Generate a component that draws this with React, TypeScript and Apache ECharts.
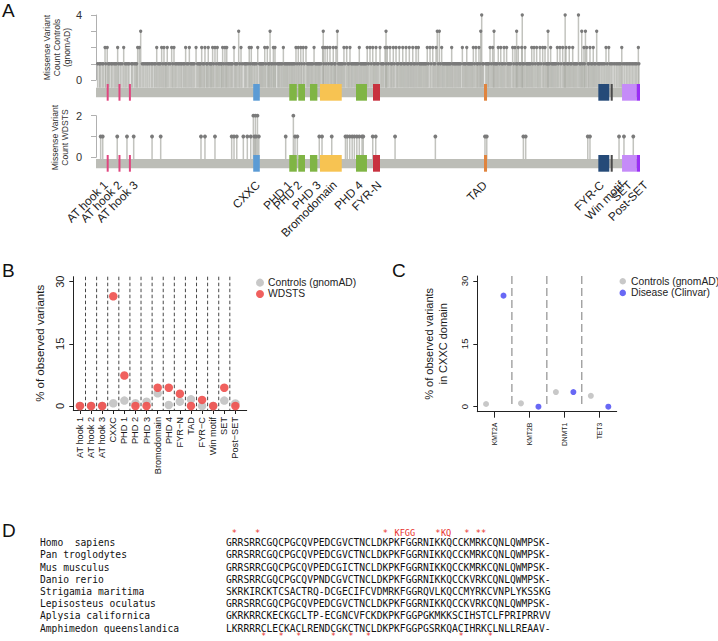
import React, { useEffect, useRef } from 'react';
import * as echarts from 'echarts';

const FONT = "'Liberation Sans', Arial, Helvetica, sans-serif";
const MONO = "'DejaVu Sans Mono', monospace";

// ---------- Panel A data ----------
const PROTEIN_LENGTH = 3969;
const domainNames = ['AT hook 1', 'AT hook 2', 'AT hook 3', 'CXXC', 'PHD 1', 'PHD 2', 'PHD 3', 'Bromodomain', 'PHD 4', 'FYR-N', 'TAD', 'FYR-C', 'Win motif', 'SET', 'Post-SET'];
const domainStart = [78, 164, 240, 1147, 1410, 1476, 1561, 1634, 1897, 2021, 2831, 3665, 3755, 3838, 3945];
const domainEnd = [90, 176, 252, 1195, 1465, 1525, 1615, 1793, 1977, 2072, 2853, 3745, 3770, 3945, 3969];
const domainColors = ['#e0457f', '#e0457f', '#e0457f', '#5b9bd5', '#80b545', '#80b545', '#80b545', '#f7c352', '#80b545', '#c8323f', '#e0843e', '#254a78', '#4a4a4a', '#c58bf8', '#9a2ef5'];
const labelNudge = [-4.5, -2.3, 3.3, -1.5, -6, -4.6, 2.3, 1.2, -3.5, 0, -3.5, -4.8, 7.4, -2.3, 4.7];
const topPlotTitle = ['Missense Variant', 'Count Controls', '(gnomAD)'];
const bottomPlotTitle = ['Missense Variant', 'Count WDSTS'];

const ctrlCount1 = [12, 25, 31, 44, 53, 71, 90, 97, 110, 118, 131, 140, 149, 166, 178, 190, 212, 221, 233, 241, 258, 266, 279, 290, 297, 337, 348, 359, 371, 380, 392, 404, 413, 425, 434, 452, 461, 470, 488, 505, 512, 530, 541, 560, 578, 587, 598, 607, 618, 626, 637, 646, 663, 672, 690, 699, 708, 717, 740, 749, 757, 763, 780, 788, 806, 811, 828, 837, 842, 858, 877, 893, 902, 912, 917, 932, 948, 962, 970, 979, 988, 995, 1015, 1022, 1030, 1049, 1066, 1081, 1090, 1097, 1109, 1125, 1141, 1152, 1160, 1170, 1192, 1200, 1207, 1215, 1222, 1239, 1258, 1263, 1278, 1285, 1299, 1312, 1326, 1333, 1341, 1350, 1358, 1375, 1383, 1391, 1399, 1408, 1416, 1425, 1433, 1441, 1450, 1467, 1484, 1501, 1520, 1541, 1549, 1557, 1566, 1574, 1582, 1600, 1608, 1617, 1625, 1633, 1642, 1662, 1679, 1697, 1715, 1722, 1740, 1745, 1769, 1777, 1785, 1793, 1801, 1817, 1838, 1845, 1862, 1870, 1879, 1888, 1896, 1904, 1912, 1930, 1938, 1947, 1955, 1963, 1971, 1988, 2008, 2027, 2035, 2051, 2060, 2081, 2090, 2098, 2117, 2134, 2153, 2160, 2177, 2197, 2204, 2222, 2229, 2246, 2254, 2270, 2278, 2295, 2302, 2319, 2327, 2343, 2360, 2368, 2376, 2385, 2393, 2401, 2409, 2425, 2445, 2465, 2473, 2497, 2513, 2530, 2538, 2546, 2555, 2563, 2571, 2579, 2587, 2603, 2612, 2620, 2628, 2637, 2645, 2653, 2661, 2681, 2690, 2697, 2713, 2721, 2729, 2737, 2745, 2762, 2780, 2786, 2801, 2820, 2828, 2844, 2852, 2860, 2866, 2884, 2900, 2911, 2919, 2927, 2944, 2961, 2969, 2985, 3004, 3012, 3020, 3028, 3048, 3065, 3074, 3090, 3098, 3114, 3122, 3139, 3147, 3155, 3163, 3171, 3187, 3205, 3223, 3231, 3247, 3267, 3284, 3292, 3300, 3309, 3325, 3333, 3341, 3349, 3357, 3374, 3393, 3413, 3420, 3437, 3445, 3461, 3469, 3486, 3494, 3502, 3510, 3529, 3537, 3551, 3564, 3590, 3596, 3612, 3620, 3636, 3644, 3662, 3670, 3678, 3690, 3700, 3711, 3730, 3750, 3760, 3772, 3785, 3797, 3808, 3818, 3828, 3845, 3858, 3870, 3881, 3892, 3903, 3914, 3925, 3936, 3946, 3961];
const ctrlCount2 = [66, 82, 158, 202, 304, 316, 443, 479, 496, 520, 552, 569, 654, 681, 730, 771, 795, 819, 851, 868, 885, 924, 941, 954, 1007, 1058, 1118, 1133, 1180, 1231, 1250, 1294, 1306, 1367, 1459, 1476, 1494, 1512, 1532, 1591, 1654, 1671, 1688, 1707, 1731, 1751, 1809, 1829, 1853, 1921, 1979, 1999, 2019, 2043, 2072, 2109, 2125, 2145, 2169, 2189, 2213, 2238, 2262, 2286, 2311, 2335, 2352, 2417, 2437, 2457, 2481, 2522, 2595, 2673, 2705, 2753, 2772, 2794, 2875, 2894, 2935, 2953, 2977, 2996, 3040, 3057, 3081, 3106, 3130, 3179, 3196, 3215, 3239, 3259, 3276, 3317, 3366, 3385, 3405, 3429, 3453, 3478, 3560, 3580, 3604, 3628, 3721, 3741, 3836, 3957];
const ctrlCount3 = [326, 1041, 1270, 1658, 1761, 2116, 2490, 2505, 2807, 2904, 3069, 3298, 3544, 3571, 3653];
const ctrlCount4 = [2814, 3110, 3423, 3520];

const wdstsCount1 = [34, 49, 155, 226, 275, 409, 472, 766, 795, 868, 990, 1007, 1027, 1075, 1104, 1129, 1155, 1168, 1188, 1384, 1452, 1469, 1629, 1649, 1720, 1820, 1833, 1851, 1869, 1885, 1903, 1921, 1941, 1950, 2019, 2041, 2182, 2476, 2838, 2851, 3118, 3135, 3588, 3604, 3816, 3852, 3920];
const wdstsCount2 = [1148, 1163, 1178, 1440];

// ---------- Panel B data ----------
const categoriesB = ['AT hook 1', 'AT hook 2', 'AT hook 3', 'CXXC', 'PHD 1', 'PHD 2', 'PHD 3', 'Bromodomain', 'PHD 4', 'FYR\u2212N', 'TAD', 'FYR\u2212C', 'Win motif', 'SET', 'Post\u2212SET'];
const controlsB = [0, 0, 0, 0.65, 1.3, 0.65, 1.05, 3.06, 0.24, 1.05, 1.6, 0, 0, 1.3, 0.6];
const wdstsB = [0, 0, 0, 26.47, 7.35, 0, 0, 4.41, 4.41, 2.94, 0, 1.47, 0, 4.41, 0];
const ticksB = [0, 15, 30];

// ---------- Panel C data ----------
const genesC = ['KMT2A', 'KMT2B', 'DNMT1', 'TET3'];
const controlsC = [0.65, 0.8, 3.5, 2.6];
const diseaseC = [26.5, 0, 3.5, 0];
const ticksC = [0, 15, 30];

// ---------- Panel D data ----------
const speciesNames = ['Homo\u00a0 sapiens', 'Pan troglodytes', 'Mus musculus', 'Danio rerio', 'Strigamia maritima', 'Lepisosteus oculatus', 'Aplysia californica', 'Amphimedon queenslandica'];
const sequences = [
  'GRRSRRCGQCPGCQVPEDCGVCTNCLDKPKFGGRNIKKQCCKMRKCQNLQWMPSK-',
  'GRRSRRCGQCPGCQVPEDCGVCTNCLDKPKFGGRNIKKQCCKMRKCQNLQWMPSK-',
  'GRRSRRCGQCPGCQVPEDCGICTNCLDKPKFGGRNIKKQCCKMRKCQNLQWMPSK-',
  'GRRSRRCGQCPGCQVPNDCGVCTNCLDKPKFGGRNIKKQCCKVRKCQNLQWMPSK-',
  'SKRKIRCKTCSACTRQ-DCGECIFCVDMRKFGGRQVLKQCCMYRKCVNPLYKSSKG',
  'GRRSRRCGQCPGCQVPEDCGVCTNCLDKPKFGGRNIKKQCCKVRKCQNLQWMPSK-',
  'GKRKRRCKECKGCLTP-ECGNCVFCKDKPKFGGPGKMKKSCIHSTCLFPRIPRRVV',
  'LKRRRRCLECKACLRENDCGKCTNCLDKPKFGGPGSRKQACIHRKCLNLLREAAV-',
];
const topMarks: [number, string][] = [[1, '*'], [5, '*'], [27, '*'], [29, 'KFGG'], [36, '*'], [37, 'KQ'], [41, '*'], [43, '**']];
const bottomMarkCols = [6, 9, 12, 18, 21, 24, 40, 45];

function buildOption() {
  const stemColor = 'rgba(168,170,163,0.7)';
  const dotColor = '#7a7a7a';

  const ctrlPoints = [
    ...ctrlCount1.map((p) => [p, 1]),
    ...ctrlCount2.map((p) => [p, 2]),
    ...ctrlCount3.map((p) => [p, 3]),
    ...ctrlCount4.map((p) => [p, 4]),
  ];
  const wdstsPoints = [...wdstsCount1.map((p) => [p, 1]), ...wdstsCount2.map((p) => [p, 2])];
  const domainData = domainStart.map((s, i) => [s, domainEnd[i], i]);

  const stems = (gi: number, data: number[][], barOff: number) => ({
    type: 'custom', xAxisIndex: gi, yAxisIndex: gi, silent: true, z: 2, clip: false,
    data,
    renderItem: (_p: any, api: any) => {
      const top = api.coord([api.value(0), api.value(1)]);
      const base = api.coord([api.value(0), 0]);
      return { type: 'line', shape: { x1: top[0], y1: top[1], x2: top[0], y2: base[1] + barOff }, style: { stroke: stemColor, lineWidth: 1.5 } };
    },
  });
  const bar = (gi: number, off: number, h: number) => ({
    type: 'custom', xAxisIndex: gi, yAxisIndex: gi, silent: true, z: 3, clip: false,
    data: [[0, PROTEIN_LENGTH]],
    renderItem: (_p: any, api: any) => {
      const s = api.coord([api.value(0), 0]);
      const e = api.coord([api.value(1), 0]);
      return { type: 'rect', shape: { x: s[0], y: s[1] + off, width: e[0] - s[0], height: h }, style: { fill: '#bcbdb7' } };
    },
  });
  const domains = (gi: number, off: number, h: number) => ({
    type: 'custom', xAxisIndex: gi, yAxisIndex: gi, silent: true, z: 4, clip: false,
    data: domainData,
    renderItem: (_p: any, api: any) => {
      const s = api.coord([api.value(0), 0]);
      const e = api.coord([api.value(1), 0]);
      const w = Math.max(e[0] - s[0], 2);
      return { type: 'rect', shape: { x: s[0], y: s[1] + off, width: w, height: h }, style: { fill: domainColors[api.value(2)] } };
    },
  });
  const dots = (gi: number, data: number[][], size: number) => ({
    type: 'scatter', xAxisIndex: gi, yAxisIndex: gi, silent: true, z: 5, clip: false,
    symbol: 'circle', symbolSize: size, data, itemStyle: { color: dotColor, opacity: 1 },
  });

  const proteinYAxis = (gi: number, max: number) => ({
    gridIndex: gi, type: 'value', min: 0, max, interval: 1, offset: 8,
    axisLine: { show: true, lineStyle: { color: '#b0b0b0', width: 1 } },
    axisTick: { show: true, length: 5, lineStyle: { color: '#b0b0b0' } },
    axisLabel: { formatter: (v: number) => (v === 0 || v === max ? String(v) : ''), fontSize: 11, color: '#333', margin: 6, fontFamily: FONT },
    splitLine: { show: false },
  });

  const labelSeries = {
    type: 'custom', xAxisIndex: 1, yAxisIndex: 1, silent: true, z: 6, clip: false,
    data: domainData.map((d) => [(d[0] + d[1]) / 2, 0, d[2]]),
    renderItem: (_p: any, api: any) => {
      const i = api.value(2);
      const c = api.coord([api.value(0), 0]);
      return {
        type: 'text', x: c[0] + labelNudge[i] + 2.5, y: c[1] + 25.5, rotation: Math.PI / 4,
        style: { text: domainNames[i], x: 0, y: 0, align: 'right', verticalAlign: 'middle', fontSize: 11.8, fontFamily: FONT, fill: '#1a1a1a' },
      };
    },
  };

  const dashed = (gi: number, bounds: number[], yTop: number, yBot: number, dash: number[], color: string, w: number) => ({
    type: 'custom', xAxisIndex: gi, yAxisIndex: gi, silent: true, z: 1, clip: false,
    data: bounds.map((b) => [b]),
    renderItem: (_p: any, api: any) => {
      const a = api.coord([api.value(0), yTop]);
      const b = api.coord([api.value(0), yBot]);
      return { type: 'line', shape: { x1: a[0], y1: a[1], x2: b[0], y2: b[1] }, style: { stroke: color, lineWidth: w, lineDash: dash } };
    },
  });

  const axisBlack = { lineStyle: { color: '#222', width: 1 } };

  // Panel D graphic
  const seqFont = 9.65;
  const charW = seqFont * 0.602;
  const seqX = 226;
  const rowY0 = 542.6;
  const rowH = 12.2;
  const dElems: any[] = [];
  speciesNames.forEach((n, i) => {
    dElems.push({ type: 'text', x: 40, y: rowY0 + i * rowH, style: { text: n, fontSize: seqFont, fontFamily: MONO, fill: '#111', verticalAlign: 'middle' } });
    dElems.push({ type: 'text', x: seqX, y: rowY0 + i * rowH, style: { text: sequences[i], fontSize: seqFont, fontFamily: MONO, fill: '#111', verticalAlign: 'middle' } });
  });
  topMarks.forEach(([c, t]) => {
    dElems.push({ type: 'text', x: seqX + c * charW, y: 533.4, style: { text: t, fontSize: 8.6, lineHeight: 6.5, fontFamily: MONO, fill: '#e8302c', verticalAlign: 'middle' } });
  });
  bottomMarkCols.forEach((c) => {
    dElems.push({ type: 'text', x: seqX + c * charW + 0.5, y: 639.3, style: { text: '*', fontSize: 8, lineHeight: 5, fontFamily: MONO, fill: '#e8302c', verticalAlign: 'bottom' } });
  });

  const panelLetter = (t: string, x: number, y: number) => ({ type: 'text', x, y, style: { text: t, fontSize: 19, fontFamily: FONT, fill: '#111', verticalAlign: 'top' } });
  const titleLine = (t: string, x: number, y: number) => ({
    type: 'text', x, y, rotation: Math.PI / 2,
    style: { text: t, x: 0, y: 0, align: 'center', verticalAlign: 'middle', fontSize: 8.6, fontFamily: FONT, fill: '#333' },
  });
  const topTitleX = [47.2, 57, 66.6];
  const bottomTitleX = [55.2, 65];

  return {
    animation: false,
    backgroundColor: '#ffffff',
    textStyle: { fontFamily: FONT },
    grid: [
      { left: 96, top: 15, width: 544, height: 65 },
      { left: 96, top: 115.7, width: 544, height: 41.6 },
      { left: 73.3, top: 276.7, width: 173.4, height: 133.3 },
      { left: 477.3, top: 276, width: 139.4, height: 135.7 },
    ],
    xAxis: [
      { gridIndex: 0, type: 'value', min: 0, max: PROTEIN_LENGTH, show: false },
      { gridIndex: 1, type: 'value', min: 0, max: PROTEIN_LENGTH, show: false },
      {
        gridIndex: 2, type: 'value', min: -0.6, max: 15.02,
        axisLine: { show: true, onZero: false, ...axisBlack },
        axisTick: { show: true, length: 4, customValues: categoriesB.map((_, i) => i), ...axisBlack },
        axisLabel: { customValues: categoriesB.map((_, i) => i), formatter: (v: number) => categoriesB[Math.round(v)] ?? '', rotate: 90, fontSize: 9.2, color: '#1a1a1a', margin: 7, fontFamily: FONT },
        splitLine: { show: false },
      },
      {
        gridIndex: 3, type: 'value', min: -0.49, max: 3.5,
        axisLine: { show: true, onZero: false, ...axisBlack },
        axisTick: { show: true, length: 6, customValues: genesC.map((_, i) => i), ...axisBlack },
        axisLabel: { customValues: genesC.map((_, i) => i), formatter: (v: number) => genesC[Math.round(v)] ?? '', rotate: 90, fontSize: 6.8, color: '#1a1a1a', margin: 11, fontFamily: FONT },
        splitLine: { show: false },
      },
    ],
    yAxis: [
      proteinYAxis(0, 4),
      proteinYAxis(1, 2),
      {
        gridIndex: 2, type: 'value', min: -0.97, max: 31.2,
        axisLine: { show: true, onZero: false, ...axisBlack },
        axisTick: { show: true, length: 4, customValues: ticksB, ...axisBlack },
        axisLabel: { customValues: ticksB, rotate: 90, fontSize: 11, color: '#1a1a1a', margin: 8, fontFamily: FONT },
        splitLine: { show: false },
        name: '% of observed variants', nameLocation: 'middle', nameGap: 27, nameRotate: 90,
        nameTextStyle: { fontSize: 11.5, color: '#1a1a1a', fontFamily: FONT },
      },
      {
        gridIndex: 3, type: 'value', min: -1.19, max: 31.19,
        axisLine: { show: true, onZero: false, ...axisBlack },
        axisTick: { show: true, length: 4, customValues: ticksC, ...axisBlack },
        axisLabel: { customValues: ticksC, rotate: 90, fontSize: 9.5, color: '#1a1a1a', margin: 8, fontFamily: FONT },
        splitLine: { show: false },
        name: '% of observed variants\nin CXXC domain', nameLocation: 'middle', nameGap: 27, nameRotate: 90,
        nameTextStyle: { fontSize: 11, lineHeight: 14, color: '#1a1a1a', fontFamily: FONT },
      },
    ],
    legend: [
      {
        left: 256, top: 277, orient: 'vertical', itemWidth: 8, itemHeight: 8, itemGap: 0, padding: 0,
        icon: 'circle', selectedMode: false,
        data: [{ name: 'Controls (gnomAD)', itemStyle: { color: '#c8c8c8' } }, { name: 'WDSTS', itemStyle: { color: '#ef5350' } }],
        textStyle: { fontSize: 10.3, lineHeight: 11.3, color: '#222', fontFamily: FONT, padding: [0, 0, 0, -1] },
      },
      {
        left: 619.5, top: 275.5, orient: 'vertical', itemWidth: 6.5, itemHeight: 6.5, itemGap: 0, padding: 0,
        icon: 'circle', selectedMode: false,
        data: [{ name: 'Controls (gnomAD)', itemStyle: { color: '#c8c8c8' } }, { name: 'Disease (Clinvar)', itemStyle: { color: '#6868f5' } }],
        textStyle: { fontSize: 10.3, lineHeight: 11.6, color: '#222', fontFamily: FONT },
      },
    ],
    graphic: {
      elements: [
        panelLetter('A', 2, 1),
        panelLetter('B', 2, 261),
        panelLetter('C', 392, 261),
        panelLetter('D', 2, 521),
        ...topPlotTitle.map((t, i) => titleLine(t, topTitleX[i], 47.5)),
        ...bottomPlotTitle.map((t, i) => titleLine(t, bottomTitleX[i], 137.5)),
        ...dElems,
      ],
    },
    series: [
      // Panel A top (controls)
      stems(0, ctrlPoints, 7.7),
      bar(0, 7.7, 9.6),
      domains(0, 4, 16.7),
      dots(0, ctrlPoints, 3.3),
      // Panel A bottom (WDSTS)
      stems(1, wdstsPoints, 1.7),
      bar(1, 1.7, 9.3),
      domains(1, -2.3, 16.7),
      dots(1, wdstsPoints, 3.8),
      labelSeries,
      // Panel B
      dashed(2, categoriesB.slice(1).map((_, i) => i + 0.5), 31.2, -0.97, [3.5, 2.5], '#333', 0.9),
      {
        name: 'Controls (gnomAD)', type: 'scatter', xAxisIndex: 2, yAxisIndex: 2, clip: false, z: 3,
        symbol: 'circle', symbolSize: 8.5, itemStyle: { color: '#c8c8c8', opacity: 1 },
        data: controlsB.map((v, i) => [i, v]),
      },
      {
        name: 'WDSTS', type: 'scatter', xAxisIndex: 2, yAxisIndex: 2, clip: false, z: 4,
        symbol: 'circle', symbolSize: 8.5, itemStyle: { color: '#ef5350', opacity: 0.92 },
        data: wdstsB.map((v, i) => [i, v]),
      },
      // Panel C
      dashed(3, genesC.slice(1).map((_, i) => i + 0.5), 31.19, 0, [8, 4], '#999', 1.3),
      {
        name: 'Controls (gnomAD)', type: 'scatter', xAxisIndex: 3, yAxisIndex: 3, clip: false, z: 3,
        symbol: 'circle', symbolSize: 6, itemStyle: { color: '#c8c8c8', opacity: 1 },
        data: controlsC.map((v, i) => [i - 0.24, v]),
      },
      {
        name: 'Disease (Clinvar)', type: 'scatter', xAxisIndex: 3, yAxisIndex: 3, clip: false, z: 4,
        symbol: 'circle', symbolSize: 6, itemStyle: { color: '#6868f5', opacity: 1 },
        data: diseaseC.map((v, i) => [i + 0.26, v]),
      },
    ],
  };
}

export default function App() {
  const ref = useRef<HTMLDivElement>(null);
  useEffect(() => {
    const chart = echarts.init(ref.current!, null, { renderer: 'svg' });
    chart.setOption(buildOption() as any);
    return () => chart.dispose();
  }, []);
  return <div ref={ref} style={{ position: 'absolute', left: 0, top: 0, width: 718, height: 641 }} />;
}
